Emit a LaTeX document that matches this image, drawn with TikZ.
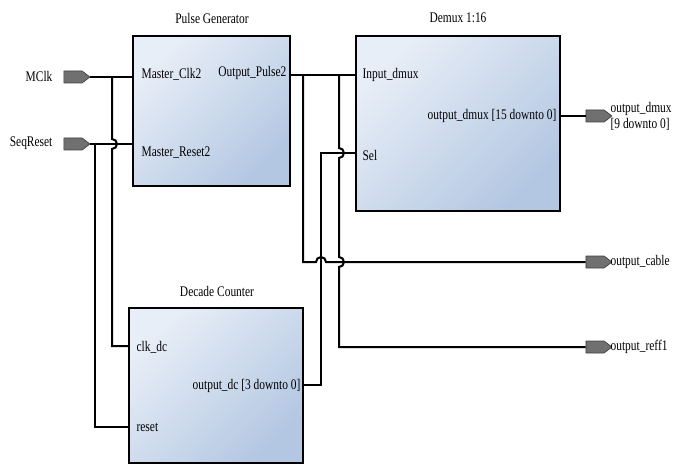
\documentclass[tikz,border=0pt]{standalone}
\usepackage{fontspec}
\setmainfont{Liberation Serif}[FakeStretch=0.78]
\usetikzlibrary{positioning,fit,calc,shapes.symbols}
\definecolor{blklight}{HTML}{E8EEF7}
\definecolor{blkdark}{HTML}{B3C7E2}
\definecolor{portgray}{HTML}{707070}

\begin{document}
\begin{tikzpicture}[
  x=0.75pt, y=-0.75pt,
  block/.style={draw, line width=2pt, inner sep=0pt,
                top color=blklight, bottom color=blkdark, shading angle=45},
  wire/.style={line width=1.5pt},
  port/.style={signal, signal to=east, signal pointer angle=75,
               draw=black!75, fill=portgray, line width=0.5pt,
               minimum width=19.5pt, minimum height=9pt, inner sep=0pt},
  title/.style={font=\fontsize{11}{12}\selectfont, inner sep=1pt},
  pin/.style={font=\fontsize{11}{12}\selectfont, inner sep=1pt}
]
  \useasboundingbox (0,0) rectangle (673,466);

  % blocks
  \node[block, fit={(133,36) (290,186)}] (pg)  {};
  \node[block, fit={(356,36) (560,211)}] (dmx) {};
  \node[block, fit={(129,308) (303,463)}] (dc) {};

  \node[title] (pgt)  at (212,18)  {Pulse Generator};
  \node[title] (dmxt) at (458,18)  {Demux 1:16};
  \node[title] (dct)  at (217,291) {Decade Counter};

  % pin names
  \node[pin, anchor=west] (pgclk) at (140,74)  {Master\_Clk2};
  \node[pin, anchor=west] (pgrst) at (140,153) {Master\_Reset2};
  \node[pin, anchor=east] (pgout) at (288,73)  {Output\_Pulse2};
  \node[pin, anchor=west] (dmxin) at (361,75)  {Input\_dmux};
  \node[pin, anchor=west] (dmxsel) at (361,155) {Sel};
  \node[pin, anchor=east] (dmxout) at (558,116) {output\_dmux [15 downto 0]};
  \node[pin, anchor=west] (dcclkn) at (135,347) {clk\_dc};
  \node[pin, anchor=west] (dcrstn) at (135,427) {reset};
  \node[pin, anchor=east] (dcoutn) at (302,386) {output\_dc [3 downto 0]};

  % ports
  \node[port] (mclk) at (73,77)  {};
  \node[port] (seq)  at (73,144) {};
  \node[port] (dmxo) at (595,116) {};
  \node[port] (cab)  at (595,262) {};
  \node[port] (ref)  at (595,347) {};

  \node[pin, anchor=east] (mclkn) at (54,76)  {MClk};
  \node[pin, anchor=east] (seqn)  at (54,143) {SeqReset};
  \node[pin, anchor=west, align=left] (dmxon) at (609,116)
       {output\_dmux\\\relax [9 downto 0]};
  \node[pin, anchor=west] (cabn) at (609,262) {output\_cable};
  \node[pin, anchor=west] (refn) at (609,347) {output\_reff1};

  % junctions and pins
  \coordinate (jclk)  at (112,77);
  \coordinate (jrst)  at (95,144);
  \coordinate (jcab)  at (303,75);
  \coordinate (jref)  at (339,75);
  \coordinate (jsel)  at (321,153);
  \coordinate (dcclk) at (129,346);
  \coordinate (dcrst) at (129,427);
  \coordinate (dcout) at (303,385);

  % wires
  \draw[wire] (mclk.east) -- (mclk.east -| pg.west);
  \draw[wire] (seq.east) -- (seq.east -| pg.west);
  \draw[wire] (jclk) -- ($(jclk |- seq.east)+(0,-5)$)
              arc[start angle=-90, end angle=90, radius=5] |- (dcclk);
  \draw[wire] (jrst) |- (dcrst);

  \draw[wire] (pg.east |- jcab) -- (jcab -| dmx.west);
  \draw[wire] (jcab) |- ($(jsel |- cab.west)+(-5,0)$)
              arc[start angle=180, end angle=360, radius=5] -- (cab.west);
  \draw[wire] (jref) -- ($(jref |- jsel)+(0,-5)$)
              arc[start angle=-90, end angle=90, radius=5]
              -- ($(jref |- cab.west)+(0,-5)$)
              arc[start angle=-90, end angle=90, radius=5] |- (ref.west);
  \draw[wire] (dcout) -| (jsel) -- (jsel -| dmx.west);
  \draw[wire] (dmx.east |- dmxo.west) -- (dmxo.west);
\end{tikzpicture}
\end{document}
